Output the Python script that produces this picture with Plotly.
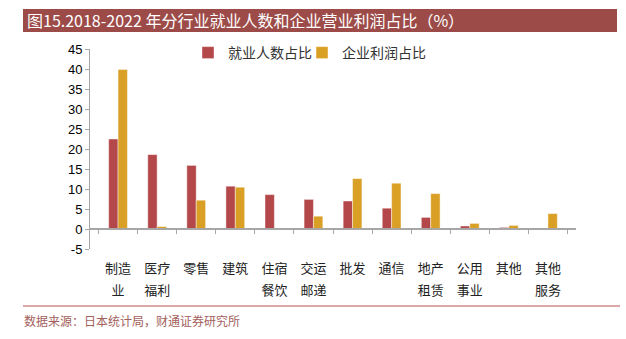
import plotly.graph_objects as go

categories = ["制造业", "医疗福利", "零售", "建筑", "住宿餐饮", "交运邮递",
              "批发", "通信", "地产租赁", "公用事业", "其他", "其他服务"]
tick_labels = ["制造<br>业", "医疗<br>福利", "零售", "建筑", "住宿<br>餐饮", "交运<br>邮递",
               "批发", "通信", "地产<br>租赁", "公用<br>事业", "其他", "其他<br>服务"]
employment_share = [22.5, 18.6, 15.9, 10.7, 8.6, 7.4, 7.0, 5.2, 2.9, 0.75, 0.4, 0.15]
profit_share = [39.9, 0.6, 7.2, 10.45, -0.2, 3.2, 12.6, 11.45, 8.85, 1.4, 0.9, 3.85]
y_ticks = [-5, 0, 5, 10, 15, 20, 25, 30, 35, 40, 45]
y_tick_labels = ["-5", "0", "5", "10", "15", "20", "25", "30", "35", "40", "45"]
series_names = ["就业人数占比", "企业利润占比"]
title_text = "图15.2018-2022 年分行业就业人数和企业营业利润占比（%）"
source_text = "数据来源：日本统计局，财通证券研究所"

RED = "#B4474A"
ORANGE = "#DAA026"
CJK = "Noto Sans CJK SC"
LAT = "Liberation Sans, Arial"

W, H = 626, 339
L, R, T, B = 90, 50, 49, 90
PW, PH = W - L - R, H - T - B


def px(x):
    return (x - L) / PW


def py(y):
    return (H - B - y) / PH


fig = go.Figure()
fig.add_trace(go.Bar(x=categories, y=employment_share, name=series_names[0], legend="legend",
                     marker=dict(color=RED, line=dict(color="rgba(255,255,255,0.55)", width=0.8))))
fig.add_trace(go.Bar(x=categories, y=profit_share, name=series_names[1], legend="legend2",
                     marker=dict(color=ORANGE, line=dict(color="rgba(255,255,255,0.55)", width=0.8))))
# invisible helper trace to carry the zero-level category axis
fig.add_trace(go.Scatter(x=categories, y=[0] * len(categories), xaxis="x2", mode="markers",
                         marker=dict(opacity=0), showlegend=False, hoverinfo="skip"))

ticktext = ["<span style='font-size:13px'>%s</span>" % t.replace("<br>", "</span><br><span style='font-size:13px'>")
            for t in tick_labels]

legend_common = dict(orientation="h", xanchor="left", yanchor="middle",
                     font=dict(family=CJK, size=14, color="#333"), bgcolor="rgba(0,0,0,0)")

fig.update_layout(
    width=W, height=H,
    margin=dict(l=L, r=R, t=T, b=B),
    paper_bgcolor="white", plot_bgcolor="white",
    barmode="group", bargap=0.52, bargroupgap=0,
    font=dict(family=CJK, color="#222"),
    xaxis=dict(type="category", categoryorder="array", categoryarray=categories,
               tickvals=categories, ticktext=ticktext,
               tickfont=dict(family=CJK, size=17, color="#222"),
               showline=False, ticks="", showgrid=False, zeroline=False,
               ticklabelstandoff=6),
    xaxis2=dict(type="category", categoryorder="array", categoryarray=categories,
                matches="x", overlaying="x", anchor="free", position=py(229),
                showline=True, linecolor="#A6A6A6", linewidth=2,
                ticks="outside", tickson="boundaries", ticklen=4, tickcolor="#A6A6A6",
                showticklabels=False, showgrid=False, zeroline=False),
    yaxis=dict(range=[-5, 45], tickvals=y_ticks, ticktext=y_tick_labels,
               showgrid=False, zeroline=False,
               showline=True, linecolor="#A6A6A6", linewidth=1,
               ticks="outside", ticklen=4, tickcolor="#A6A6A6",
               tickfont=dict(family=LAT, size=13, color="#000")),
    legend=dict(x=px(188), y=py(53), **legend_common),
    legend2=dict(x=px(302), y=py(53), **legend_common),
    shapes=[
        dict(type="rect", xref="paper", yref="paper", x0=px(23), x1=px(617), y0=py(32), y1=py(9),
             fillcolor="#9C4B48", line=dict(width=0), layer="below"),
        dict(type="line", xref="paper", yref="paper", x0=px(23), x1=px(620), y0=py(306), y1=py(306),
             line=dict(color="#B5524E", width=1)),
    ],
    annotations=[
        dict(text=title_text, xref="paper", yref="paper", x=px(25), y=py(20.5),
             xanchor="left", yanchor="middle", showarrow=False,
             font=dict(family=CJK, size=16, color="white")),
        dict(text=source_text, xref="paper", yref="paper", x=px(22), y=py(320),
             xanchor="left", yanchor="middle", showarrow=False,
             font=dict(family=CJK, size=12, color="#A3615C")),
    ],
)

fig.write_html("out.html")
